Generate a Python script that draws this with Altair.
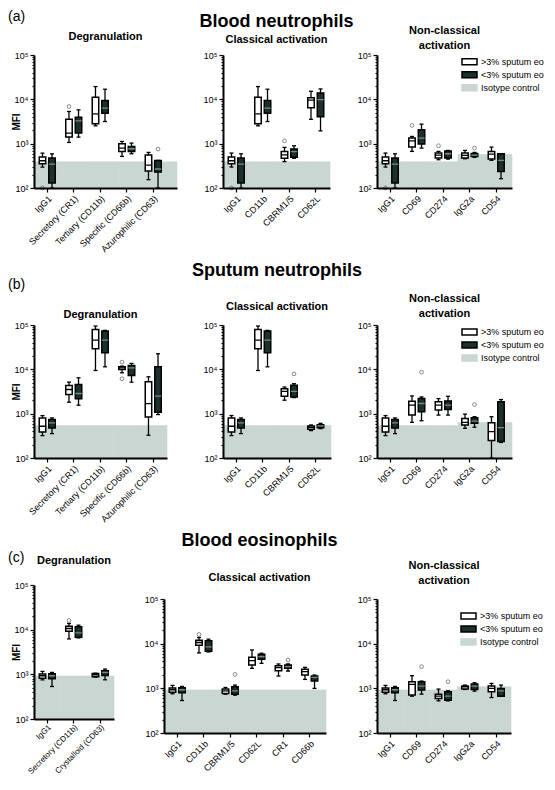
import altair as alt
import pandas as pd

FONT = "Liberation Sans"
HI = ">3% sputum eo"
LO = "<3% sputum eo"
ISO = "Isotype control"
GROUPS = [HI, LO, ISO]
WHITE = "#ffffff"
DARK = "#1c302d"
GRAY = "#c9d6d2"
STEP = 26.5

# ---------------- data: [min, q1, median, q3, max] ----------------
# (a) Blood neutrophils
a_igg1_hi = [297, 353, 412, 499, 614]
a_igg1_lo = [100, 130, 347, 473, 590]
a_cd11b_hi = [2528, 2805, 4710, 11170, 19400]
a_cd11b_lo = [3162, 4870, 6310, 9400, 16900]

a1_cats = ["IgG1", "Secretory (CR1)", "Tertiary (CD11b)", "Specific (CD66b)", "Azurophilic (CD63)"]
a1_hi = [a_igg1_hi, [1066, 1405, 1729, 3573, 5316], a_cd11b_hi, [516, 669, 794, 1000, 1122], [154, 241, 329, 553, 635]]
a1_lo = [a_igg1_lo, [1405, 1729, 3276, 3960, 5795], a_cd11b_lo, [593, 669, 768, 866, 1030], [100, 229, 268, 419, 419]]
a1_out = [("IgG1", HI, 100), ("Secretory (CR1)", HI, 6887), ("Azurophilic (CD63)", LO, 755)]
a1_iso = [390, 390, 390, 390, 390]

a2_cats = ["IgG1", "CD11b", "CBRM1/5", "CD62L"]
a2_hi = [a_igg1_hi, a_cd11b_hi, [394, 468, 556, 670, 824], [3540, 6450, 9550, 10790, 15200]]
a2_lo = [a_igg1_lo, a_cd11b_lo, [468, 493, 659, 756, 897], [1942, 4060, 9900, 13930, 17140]]
a2_out = [("IgG1", HI, 100), ("CBRM1/5", HI, 1161)]
a2_iso = [390, 390, 390, 390]

a3_cats = ["IgG1", "CD69", "CD274", "IgG2a", "CD54"]
a3_hi = [a_igg1_hi, [669, 837, 1161, 1334, 1455], [434, 473, 553, 613, 669], [457, 473, 543, 613, 704], [420, 449, 582, 669, 837]]
a3_lo = [a_igg1_lo, [794, 978, 1334, 2055, 2754], [449, 473, 593, 680, 704], [490, 516, 553, 603, 635], [162, 237, 420, 593, 593]]
a3_out = [("IgG1", HI, 100), ("CD69", HI, 2571), ("CD274", HI, 897), ("IgG2a", LO, 794)]
a3_iso = [390, 390, 390, 570, 570]

# (b) Sputum neutrophils
b_igg1_hi = [320, 387, 520, 802, 906]
b_igg1_lo = [355, 477, 618, 736, 802]
b_cd11b_hi = [9420, 29100, 45700, 79600, 94800]
b_cd11b_lo = [11400, 23700, 45700, 73100, 75600]

b1_cats = a1_cats
b1_hi = [b_igg1_hi, [1813, 2704, 3508, 4318, 5140], b_cd11b_hi, [8360, 9930, 10830, 11400, 11800], [325, 845, 1691, 5220, 6780]]
b1_lo = [b_igg1_lo, [1550, 2158, 2847, 4550, 6440], b_cd11b_lo, [5140, 7270, 10830, 12220, 13580], [955, 1077, 2479, 11400, 22440]]
b1_out = [("Specific (CD66b)", HI, 14550), ("Specific (CD66b)", HI, 6110)]
b1_iso = [540, 540, 540, 540, 540]

b2_cats = a2_cats
b2_hi = [b_igg1_hi, b_cd11b_hi, [2010, 2466, 3195, 3660, 3990], [415, 444, 492, 528, 556]]
b2_lo = [b_igg1_lo, b_cd11b_lo, [2305, 2384, 3195, 4350, 4735], [460, 484, 528, 565, 605]]
b2_out = [("CBRM1/5", LO, 7920)]
b2_iso = [540, 540, 540, 540]

b3_cats = a3_cats
b3_hi = [b_igg1_hi, [637, 929, 1553, 1908, 2512], [929, 1202, 1553, 1845, 2188], [468, 555, 637, 783, 978], [100, 248, 394, 626, 853]]
b3_lo = [b_igg1_lo, [694, 1102, 1694, 2188, 2386], [929, 1244, 1553, 1941, 2466], [493, 605, 682, 809, 853], [224, 236, 484, 1845, 2080]]
b3_out = [("CD69", LO, 8630), ("IgG2a", LO, 1608)]
b3_iso = [540, 540, 540, 630, 630]

# (c) Blood eosinophils
c_igg1_hi = [755, 822, 929, 1012, 1162]
c_igg1_lo = [534, 794, 929, 1030, 1104]
c_cd11b_hi = [6210, 9240, 10610, 11970, 13740]
c_cd11b_lo = [6530, 6760, 8480, 11560, 12600]

c1_cats = ["IgG1", "Secretory (CD11b)", "Crystalloid (CD63)"]
c1_hi = [c_igg1_hi, c_cd11b_hi, [870, 881, 978, 1047, 1060]]
c1_lo = [c_igg1_lo, c_cd11b_lo, [755, 945, 1104, 1202, 1311]]
c1_out = [("Secretory (CD11b)", HI, 16060)]
c1_iso = [920, 920, 920]

c2_cats = ["IgG1", "CD11b", "CBRM1/5", "CD62L", "CR1", "CD66b"]
c2_hi = [c_igg1_hi, c_cd11b_hi, [741, 768, 881, 961, 1047], [2805, 3334, 4170, 4955, 7244], [1885, 2485, 2904, 3220, 3508], [1585, 1986, 2360, 2661, 2951]]
c2_lo = [c_igg1_lo, c_cd11b_lo, [704, 741, 881, 1084, 1183], [3630, 4470, 5130, 5795, 6100], [2442, 2805, 3055, 3334, 3508], [995, 1455, 1759, 1885, 1986]]
c2_out = [("CD11b", HI, 16060), ("CBRM1/5", LO, 2055), ("CR1", LO, 4320)]
c2_iso = [920, 920, 920, 920, 920, 920]

c3_cats = a3_cats
c3_hi = [c_igg1_hi, [668, 705, 1225, 1406, 1918], [525, 593, 668, 741, 961], [944, 961, 1084, 1122, 1183], [624, 837, 995, 1122, 1288]]
c3_lo = [c_igg1_lo, [741, 912, 1122, 1406, 1455], [525, 543, 668, 837, 881], [866, 944, 1122, 1245, 1334], [668, 668, 881, 995, 1183]]
c3_out = [("CD69", LO, 3055), ("CD274", LO, 1406)]
c3_iso = [920, 920, 920, 1090, 1090]

Y_TICKS = [m * 10 ** k for k in (2, 3, 4) for m in range(1, 10)] + [100000]
LABEL_EXPR = ("datum.value == 100 ? '10\u00b2' : datum.value == 1000 ? '10\u00b3' : "
              "datum.value == 10000 ? '10\u2074' : datum.value == 100000 ? '10\u2075' : ''")
MAJOR_TEST = "datum.value == 100 || datum.value == 1000 || datum.value == 10000 || datum.value == 100000"


def panel(cats, hi, lo, outs, iso, W, H, d, title, ylab=False, letter=None,
          letter_y=0, legend_y=None, x0=0, xlab_size=9, xlab_pad=2):
    n = len(cats)
    po = max(0.0, ((W - x0) / STEP - n) / 2)
    rows = []
    for c, h, l in zip(cats, hi, lo):
        for g, v in ((HI, h), (LO, l)):
            rows.append(dict(cat=c, grp=g, mn=v[0], q1=v[1], md=v[2], q3=v[3], mx=v[4]))
    box_df = pd.DataFrame(rows)
    iso_df = pd.DataFrame({"cat": cats, "grp": [ISO] * n, "iso": iso})
    out_df = pd.DataFrame(outs, columns=["cat", "grp", "val"])

    yscale = alt.Scale(type="log", domain=[100, 100000], range=[H, d], nice=False)
    yaxis = alt.Axis(
        title="MFI" if ylab else None, values=Y_TICKS, labelExpr=LABEL_EXPR,
        labelOverlap=False, grid=False, domainColor="black", domainWidth=2,
        tickColor="black", tickWidth=1.2, offset=-x0,
        tickSize={"condition": {"test": MAJOR_TEST, "value": 4}, "value": 2},
        labelFontSize=9, labelPadding=2, titleFontSize=10, titleFontWeight="bold",
        titleX=-13, titleBaseline="bottom", zindex=1,
    )
    xaxis = alt.Axis(
        title=None, orient="bottom", labelAngle=-45, labelFontSize=xlab_size,
        labelPadding=xlab_pad, labelOverlap=False, domainColor="black", domainWidth=2,
        tickColor="black", tickWidth=1.2, tickSize=4, zindex=1,
    )
    fill_scale = alt.Scale(domain=GROUPS, range=[WHITE, DARK, GRAY])
    stroke_scale = alt.Scale(domain=GROUPS, range=["black", "black", GRAY])
    if legend_y is not None:
        legend = alt.Legend(
            title=None, orient="none", legendX=W - 51, legendY=legend_y, direction="vertical",
            symbolType="M-1,-0.4H1V0.4H-1Z", symbolSize=225, symbolStrokeWidth=1.5,
            labelFontSize=9, labelOffset=3, clipHeight=10, rowPadding=3, padding=0,
        )
    else:
        legend = None

    gray = alt.Chart(iso_df).mark_rect(strokeWidth=0.6).encode(
        x=alt.X("cat:N", sort=cats, scale=alt.Scale(paddingInner=0, paddingOuter=0, range=[x0, W]),
                axis=None),
        y=alt.Y("iso:Q", scale=yscale, axis=yaxis),
        y2=alt.datum(100),
        fill=alt.Fill("grp:N", scale=fill_scale, legend=legend),
        stroke=alt.Stroke("grp:N", scale=stroke_scale, legend=legend),
    )

    xb = alt.X("cat:N", sort=cats,
               scale=alt.Scale(paddingInner=0, paddingOuter=po, align=0, range=[x0, W]), axis=xaxis)
    xo = alt.XOffset("grp:N", sort=[HI, LO],
                     scale=alt.Scale(domain=[HI, LO], paddingInner=0.32, paddingOuter=0.55))

    whisk = alt.Chart(box_df).mark_rule(color="black", strokeWidth=1.3).encode(
        x=xb, xOffset=xo, y=alt.Y("mn:Q", scale=yscale, axis=yaxis), y2="mx:Q")
    cap_lo = alt.Chart(box_df).mark_tick(color="black", size=4, thickness=1.3, opacity=1).encode(
        x=xb, xOffset=xo, y=alt.Y("mn:Q", scale=yscale, axis=yaxis))
    cap_hi = alt.Chart(box_df).mark_tick(color="black", size=4, thickness=1.3, opacity=1).encode(
        x=xb, xOffset=xo, y=alt.Y("mx:Q", scale=yscale, axis=yaxis))
    box = alt.Chart(box_df).mark_bar(strokeWidth=1.5).encode(
        x=xb, xOffset=xo, y=alt.Y("q1:Q", scale=yscale, axis=yaxis), y2="q3:Q",
        fill=alt.Fill("grp:N", scale=fill_scale, legend=legend),
        stroke=alt.Stroke("grp:N", scale=stroke_scale, legend=legend))
    med = alt.Chart(box_df).mark_bar(strokeWidth=1.3, fillOpacity=0).encode(
        x=xb, xOffset=xo, y=alt.Y("md:Q", scale=yscale, axis=yaxis), y2="md:Q",
        stroke=alt.condition(f"datum.grp == '{HI}'", alt.value("black"), alt.value("#6f8f89")))
    inner_layers = [whisk, cap_lo, cap_hi, box, med]
    if len(outs):
        pts = alt.Chart(out_df).mark_point(shape="circle", filled=False, size=14,
                                           color="#555555", strokeWidth=1).encode(
            x=xb, xOffset=xo, y=alt.Y("val:Q", scale=yscale, axis=yaxis))
        inner_layers.append(pts)
    inner = alt.layer(*inner_layers)

    layers = [gray, inner]
    if letter:
        lab = alt.Chart(pd.DataFrame({"lab": [letter]})).mark_text(
            align="left", baseline="alphabetic", fontSize=14, font=FONT, color="black"
        ).encode(x=alt.value(-26), y=alt.value(letter_y), text="lab:N")
        layers.append(lab)
    return alt.layer(*layers).resolve_scale(x="independent").properties(
        width=W, height=H, title=title)


def t1(text, offset):
    return alt.TitleParams(text=text, fontSize=11, fontWeight="bold", anchor="middle",
                           frame="group", offset=offset, lineHeight=15)


def t2(text, sub, offset, pad, dx=0):
    return alt.TitleParams(text=text, subtitle=sub, fontSize=18, fontWeight="bold",
                           subtitleFontSize=11, subtitleFontWeight="bold",
                           subtitlePadding=pad, anchor="middle", frame="group",
                           offset=offset, dx=dx)


NC = ["Non-classical", "activation"]
panels = [
    panel(a1_cats, a1_hi, a1_lo, a1_out, a1_iso, 143, 133, 0, t1("Degranulation", -32.8),
          ylab=True, letter="(a)", letter_y=-34.5),
    panel(a2_cats, a2_hi, a2_lo, a2_out, a2_iso, 107, 133, 0,
          t2("Blood neutrophils", "Classical activation", 6.4, 3.0)),
    panel(a3_cats, a3_hi, a3_lo, a3_out, a3_iso, 135, 133, 0, t1(NC, 0.4), legend_y=1.7),

    panel(b1_cats, b1_hi, b1_lo, b1_out, b1_iso, 133, 143, 10, t1("Degranulation", -42.3),
          ylab=True, letter="(b)", letter_y=-26),
    panel(b2_cats, b2_hi, b2_lo, b2_out, b2_iso, 108, 143, 10,
          t2("Sputum neutrophils", "Classical activation", 2.7, 21.5)),
    panel(b3_cats, b3_hi, b3_lo, b3_out, b3_iso, 135, 143, 10, t1(NC, -4.3), legend_y=12),

    panel(c1_cats, c1_hi, c1_lo, c1_out, c1_iso, 80, 134, 0, t1("Degranulation", -15.3),
          ylab=True, letter="(c)", letter_y=-23, xlab_size=8, xlab_pad=0),
    panel(c2_cats, c2_hi, c2_lo, c2_out, c2_iso, 103, 148, 14,
          t2("Blood eosinophils", "Classical activation", 1.7, 22.5, dx=-15), x0=-59),
    panel(c3_cats, c3_hi, c3_lo, c3_out, c3_iso, 134, 148, 14, t1(NC, -1.3), legend_y=26),
]

chart = alt.concat(
    *panels, columns=3, spacing={"row": 127, "column": 46}, align="each", bounds="flush"
).resolve_scale(
    x="independent", y="independent", xOffset="independent", fill="independent", stroke="independent"
).properties(
    autosize=alt.AutoSizeParams(type="none"),
    padding={"left": 26, "top": 47, "right": 513, "bottom": 722},
    background="white",
).configure(font=FONT).configure_view(
    stroke=None
).configure_axis(
    labelFont=FONT, titleFont=FONT, labelColor="black", titleColor="black"
).configure_title(
    font=FONT, color="black", subtitleFont=FONT, subtitleColor="black"
).configure_legend(labelFont=FONT, labelColor="black")

chart.save("out.html", embed_options={"renderer": "svg", "actions": False})
